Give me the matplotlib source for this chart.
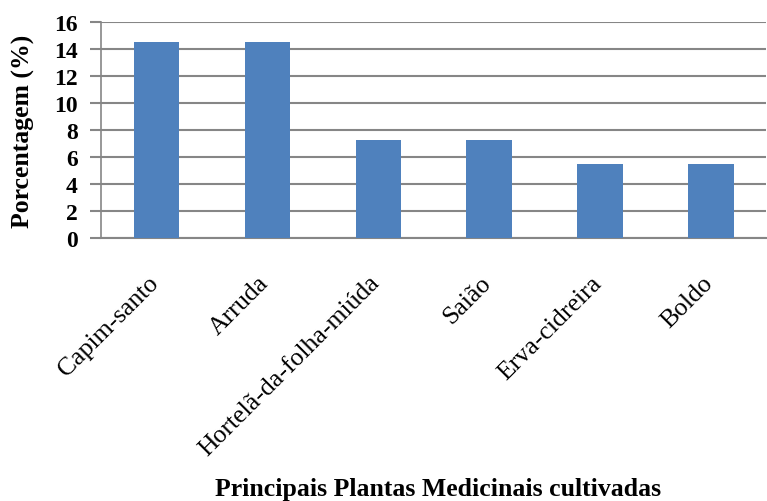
import numpy as np
import matplotlib.pyplot as plt
from matplotlib.transforms import ScaledTranslation

plantas = ["Capim-santo", "Arruda", "Hortelã-da-folha-miúda", "Saião", "Erva-cidreira", "Boldo"]
porcentagem = [14.55, 14.55, 7.27, 7.27, 5.45, 5.45]
yticks = [0, 2, 4, 6, 8, 10, 12, 14, 16]

plt.rcParams['font.family'] = ['Liberation Serif', 'DejaVu Serif']
grey = "#868686"

fig, ax = plt.subplots(figsize=(7.67, 5.02), dpi=100)
plt.subplots_adjust(left=0.132, right=0.999, top=0.954, bottom=0.524)

x = np.arange(len(plantas))
ax.bar(x, porcentagem, width=0.41, color="#4F81BD", zorder=3)

ax.set_xlim(-0.5, len(plantas) - 0.5)
ax.set_ylim(0, 16)
ax.set_yticks(yticks)
ax.set_yticklabels([str(v) for v in yticks], fontsize=17, fontweight="bold")
ax.yaxis.grid(True, color=grey, linewidth=1.5, zorder=0)
ax.tick_params(axis="y", length=8, width=1.5, color=grey, pad=9)

ax.set_xticks(x)
ax.set_xticklabels(plantas, rotation=45, ha="right", va="top", fontsize=18.5)
ax.tick_params(axis="x", length=0, pad=24)
off = ScaledTranslation(6 / 100, 0, fig.dpi_scale_trans)
for lab in ax.get_xticklabels():
    lab.set_transform(lab.get_transform() + off)

for s in ["top", "right"]:
    ax.spines[s].set_visible(False)
ax.spines["left"].set_color(grey)
ax.spines["bottom"].set_color(grey)
ax.spines["left"].set_linewidth(1.2)
ax.spines["bottom"].set_linewidth(1.5)

ax.set_ylabel("Porcentagem (%)", fontsize=18.5, fontweight="bold", va="center")
ax.yaxis.set_label_coords(-0.117, 0.5)
ax.set_xlabel("Principais Plantas Medicinais cultivadas", fontsize=18.5, fontweight="bold")
ax.xaxis.set_label_coords(0.506, -1.106)

plt.savefig("out.png", dpi=100)
